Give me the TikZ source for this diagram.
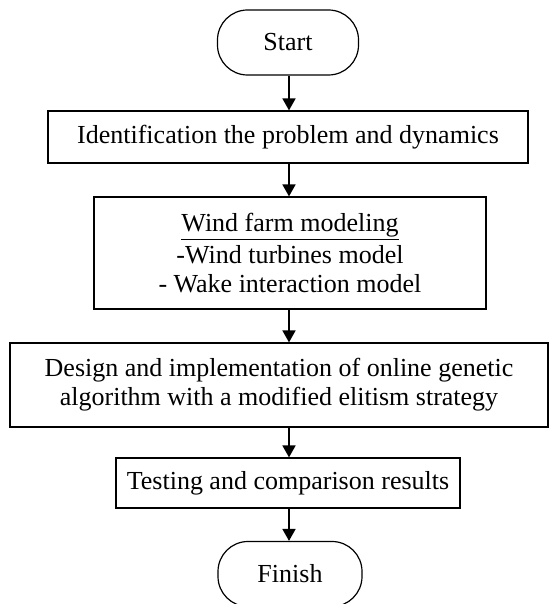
\documentclass[tikz,border=0pt]{standalone}
\usepackage{fontspec}
\setmainfont{Liberation Serif}
\usetikzlibrary{arrows.meta}
\begin{document}
\begin{tikzpicture}[x=0.5pt,y=-0.5pt,
  box/.style={draw, line width=0.6pt, inner sep=0pt, align=center,
    font=\fontsize{13}{14.4}\selectfont},
  term/.style={box, rounded corners=15pt},
  arr/.style={line width=0.9pt, -{Triangle[width=6.5pt,length=6pt]}}]
\useasboundingbox (0,0) rectangle (558,604);
\node[term, minimum width=70.5pt, minimum height=32.5pt] (start) at (288,42.5) {Start};
\node[box, minimum width=240pt, minimum height=26pt] (b1) at (288,137) {Identification the problem and dynamics};
\node[box, minimum width=196pt, minimum height=56pt] (b2) at (290,253) {\underline{Wind farm modeling}\\[2pt]-Wind turbines model\\- Wake interaction model};
\node[box, minimum width=269pt, minimum height=42pt] (b3) at (279,385) {Design and implementation of online genetic\\algorithm with a modified elitism strategy};
\node[box, minimum width=172pt, minimum height=25pt] (b4) at (288,483) {Testing and comparison results};
\node[term, minimum width=72pt, minimum height=32.5pt] (fin) at (290,574) {Finish};
\coordinate (ax) at (289,0);
\draw[arr] (ax |- start.south) -- (ax |- b1.north);
\draw[arr] (ax |- b1.south) -- (ax |- b2.north);
\draw[arr] (ax |- b2.south) -- (ax |- b3.north);
\draw[arr] (ax |- b3.south) -- (ax |- b4.north);
\draw[arr] (ax |- b4.south) -- (ax |- fin.north);
\end{tikzpicture}
\end{document}
